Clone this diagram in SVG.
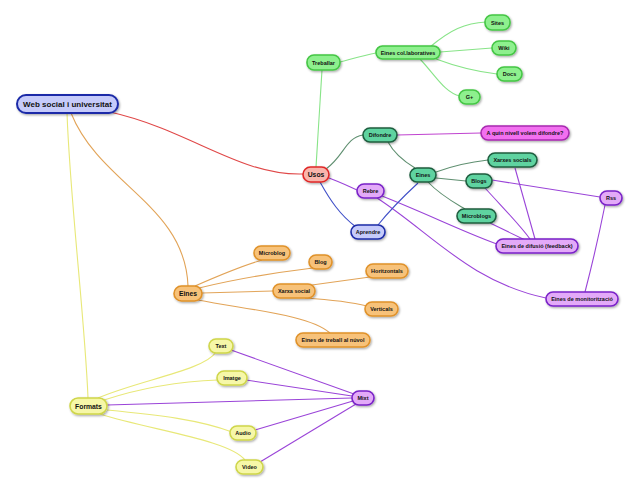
<svg xmlns="http://www.w3.org/2000/svg" width="640" height="493" viewBox="0 0 640 493">
<defs>
<filter id="sh" x="-20%" y="-30%" width="140%" height="170%">
<feDropShadow dx="1" dy="1.2" stdDeviation="0.8" flood-color="#000" flood-opacity="0.35"/>
</filter>
<style>
.n rect{stroke-width:1.6;filter:url(#sh)}
.n text{font-family:"Liberation Sans",Arial,sans-serif;font-weight:bold;font-size:5.5px;fill:#111;text-anchor:middle;dominant-baseline:central}
.big text{font-size:6.8px}
.root text{font-size:8px}
.root rect{stroke-width:2}
.gr rect{fill:#8ef08e;stroke:#44c644}
.te rect{fill:#5ed3a0;stroke:#1f5e3f}
.pu rect{fill:#e3aaf8;stroke:#7a22c8}
.ma rect{fill:#f26ff0;stroke:#a82ab0}
.bl rect{fill:#c6cbfa;stroke:#1c2ca8}
.re rect{fill:#f9b5ac;stroke:#e02828}
.or rect{fill:#f7c27a;stroke:#e0922a}
.ye rect{fill:#f6f7a8;stroke:#cfd64a}
#connectors path{fill:none;stroke-width:1.1}
.cg{stroke:#88e488}
.ct{stroke:#5f8f70}
.cp{stroke:#9a44d8}
.cm{stroke:#c044d0}
.cb{stroke:#4050c8}
.cr{stroke:#e04848}
.co{stroke:#e2a458}
.cy{stroke:#e8e878}
</style>
</defs>
<rect width="640" height="493" fill="#fff"/>
<g id="connectors">
<path class="cr" d="M110,112 C190,130 240,176 303,174"/>
<path class="co" d="M71,113 C100,185 185,205 188,286"/>
<path class="cy" d="M67,113 C70,200 85,320 88,398"/>
<path class="cg" d="M316,167 C318,130 320,100 322,70"/>
<path class="cg" d="M340,62 C355,58 365,55 376,53"/>
<path class="cg" d="M430,47 C450,30 465,23 486,22"/>
<path class="cg" d="M440,52 L492,48"/>
<path class="cg" d="M436,59 C460,68 480,72 497,74"/>
<path class="cg" d="M420,59 C435,75 445,93 460,96"/>
<path class="ct" d="M326,169 C345,155 345,138 363,135"/>
<path class="ct" d="M388,142 C395,155 405,162 415,168"/>
<path class="ct" d="M436,172 C455,165 470,162 488,160"/>
<path class="ct" d="M436,178 L466,181"/>
<path class="ct" d="M428,182 C440,195 455,203 465,209"/>
<path class="cm" d="M397,135 L481,133"/>
<path class="cp" d="M329,178 C340,182 348,186 357,190"/>
<path class="cp" d="M382,196 C430,215 470,235 500,245"/>
<path class="cp" d="M377,198 C430,232 470,282 546,298"/>
<path class="cp" d="M492,180 L600,197"/>
<path class="cp" d="M485,188 C505,210 520,225 530,239"/>
<path class="cp" d="M515,168 L535,239"/>
<path class="cp" d="M490,223 L525,240"/>
<path class="cp" d="M605,205 C598,240 592,265 585,292"/>
<path class="cb" d="M320,182 C330,200 340,215 356,227"/>
<path class="cb" d="M378,225 C390,210 405,195 418,183"/>
<path class="co" d="M195,286 C220,275 245,265 262,260"/>
<path class="co" d="M199,288 C240,278 280,272 313,268"/>
<path class="co" d="M202,293 L273,291"/>
<path class="co" d="M312,285 L370,277"/>
<path class="co" d="M305,298 C335,300 355,303 367,306"/>
<path class="co" d="M198,300 C250,310 310,315 330,333"/>
<path class="cy" d="M98,398 C140,380 205,370 216,352"/>
<path class="cy" d="M104,400 C150,385 190,381 218,380"/>
<path class="cy" d="M107,410 C160,415 200,420 232,432"/>
<path class="cy" d="M100,414 C150,430 230,440 245,460"/>
<path class="cp" d="M107,405 L352,398"/>
<path class="cp" d="M231,350 L354,394"/>
<path class="cp" d="M246,380 L352,396"/>
<path class="cp" d="M255,430 L353,401"/>
<path class="cp" d="M260,462 L356,404"/>
</g>
<g id="root" class="n bl root"><rect x="17" y="95" width="101" height="18" rx="9"/><text x="67.5" y="104">Web social i universitat</text></g>
<g id="usos" class="n re big"><rect x="303" y="167" width="26" height="15" rx="7.5"/><text x="316" y="174.5">Usos</text></g>
<g id="treballar" class="n gr"><rect x="307" y="55" width="33" height="15" rx="7"/><text x="323.5" y="62.5">Treballar</text></g>
<g id="eines-col" class="n gr"><rect x="376" y="46" width="64" height="13" rx="6.5"/><text x="408" y="52.5">Eines col.laboratives</text></g>
<g id="sites" class="n gr"><rect x="485" y="15" width="25" height="15" rx="7"/><text x="497.5" y="22.5">Sites</text></g>
<g id="wiki" class="n gr"><rect x="492" y="41" width="24" height="14" rx="7"/><text x="504" y="48">Wiki</text></g>
<g id="docs" class="n gr"><rect x="497" y="67" width="25" height="14" rx="7"/><text x="509.5" y="74">Docs</text></g>
<g id="gplus" class="n gr"><rect x="459" y="90" width="21" height="14" rx="7"/><text x="469.5" y="97">G+</text></g>
<g id="difondre" class="n te"><rect x="363" y="128" width="34" height="14" rx="7"/><text x="380" y="135">Difondre</text></g>
<g id="aquin" class="n ma"><rect x="481" y="126" width="88" height="14" rx="7"/><text x="525" y="133">A quin nivell volem difondre?</text></g>
<g id="xarxes" class="n te"><rect x="488" y="153" width="49" height="14" rx="7"/><text x="512.5" y="160">Xarxes socials</text></g>
<g id="eines-t" class="n te"><rect x="410" y="168" width="26" height="14" rx="7"/><text x="423" y="175">Eines</text></g>
<g id="blogs" class="n te"><rect x="466" y="174" width="26" height="14" rx="7"/><text x="479" y="181">Blogs</text></g>
<g id="microblogs" class="n te"><rect x="457" y="209" width="39" height="14" rx="7"/><text x="476.5" y="216">Microblogs</text></g>
<g id="rebre" class="n pu"><rect x="357" y="184" width="27" height="14" rx="7"/><text x="370.5" y="191">Rebre</text></g>
<g id="rss" class="n pu"><rect x="600" y="191" width="22" height="14" rx="7"/><text x="611" y="198">Rss</text></g>
<g id="aprendre" class="n bl"><rect x="351" y="225" width="34" height="14" rx="7"/><text x="368" y="232">Aprendre</text></g>
<g id="difusio" class="n pu"><rect x="496" y="239" width="82" height="14" rx="7"/><text x="537" y="246">Eines de difusió (feedback)</text></g>
<g id="monitor" class="n pu"><rect x="546" y="292" width="72" height="14" rx="7"/><text x="582" y="299">Eines de monitorització</text></g>
<g id="eines-o" class="n or big"><rect x="174" y="286" width="28" height="15" rx="7.5"/><text x="188" y="293.5">Eines</text></g>
<g id="microblog" class="n or"><rect x="254" y="246" width="36" height="14" rx="7"/><text x="272" y="253">Microblog</text></g>
<g id="blog" class="n or"><rect x="309" y="255" width="23" height="14" rx="7"/><text x="320.5" y="262">Blog</text></g>
<g id="horitzontals" class="n or"><rect x="366" y="264" width="42" height="14" rx="7"/><text x="387" y="271">Horitzontals</text></g>
<g id="xarxa" class="n or"><rect x="273" y="284" width="42" height="14" rx="7"/><text x="294" y="291">Xarxa social</text></g>
<g id="verticals" class="n or"><rect x="365" y="302" width="33" height="14" rx="7"/><text x="381.5" y="309">Verticals</text></g>
<g id="nuvol" class="n or"><rect x="296" y="333" width="74" height="14" rx="7"/><text x="333" y="340">Eines de treball al núvol</text></g>
<g id="formats" class="n ye big"><rect x="70" y="398" width="37" height="16" rx="8"/><text x="88.5" y="406">Formats</text></g>
<g id="text" class="n ye"><rect x="209" y="339" width="24" height="14" rx="7"/><text x="221" y="346">Text</text></g>
<g id="imatge" class="n ye"><rect x="217" y="371" width="30" height="14" rx="7"/><text x="232" y="378">Imatge</text></g>
<g id="audio" class="n ye"><rect x="230" y="426" width="26" height="14" rx="7"/><text x="243" y="433">Audio</text></g>
<g id="video" class="n ye"><rect x="236" y="460" width="27" height="14" rx="7"/><text x="249.5" y="467">Video</text></g>
<g id="mixt" class="n pu"><rect x="352" y="391" width="22" height="14" rx="7"/><text x="363" y="398">Mixt</text></g>
</svg>
